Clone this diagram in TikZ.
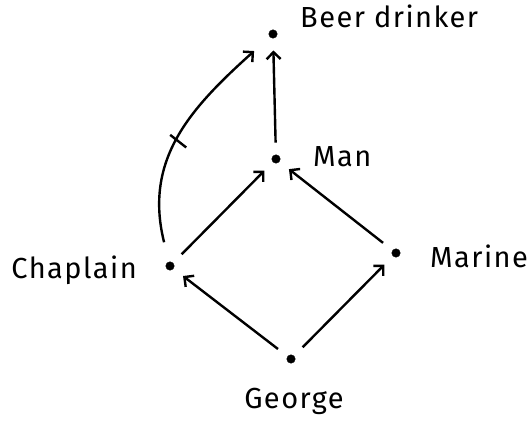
\documentclass[tikz,border=0pt]{standalone}
\usepackage{fontspec}
\setmainfont{Fira Sans}[LetterSpace=5]
\usepackage{tikz}
\usetikzlibrary{calc}
\usetikzlibrary{arrows.meta}
\usetikzlibrary{decorations.markings}

\begin{document}
\begin{tikzpicture}[x=1pt, y=1pt,
	dot/.style = {draw=black, fill=black, circle, inner sep=0pt, minimum size=8.5pt},
	arr/.style = {line width=2.4pt, -{Straight Barb[length=7pt, width=14pt, line width=2.4pt]}, shorten <=12pt, shorten >=12pt},
	tick/.style = {line width=2.4pt, -, shorten <=0pt, shorten >=0pt},
	lab/.style = {font=\fontsize{29}{32}\selectfont, inner sep=0pt}
]
\useasboundingbox (0,0) rectangle (527,426);

% The five individuals of the ordering
\node[dot] (beer) at (273,392) {};
\node[dot] (man) at (276,267) {};
\node[dot] (chaplain) at (170,160) {};
\node[dot] (marine) at (396,173) {};
\node[dot] (george) at (291,67) {};

% Their names
\node[lab, anchor=base west] (beerlab) at ($(beer)+(27,6)$) {Beer drinker};
\node[lab, anchor=base west] (manlab) at ($(man)+(37,-8)$) {Man};
\node[lab, anchor=base west] (marinelab) at ($(marine)+(34,-14)$) {Marine};
\node[lab, anchor=base east] (chaplainlab) at ($(chaplain)+(-33,-13)$) {Chaplain};
\node[lab, anchor=base] (georgelab) at ($(george)+(3,-49)$) {George};

% Upward arrows of the diamond
\draw[arr] (george) -- (chaplain);
\draw[arr] (george) -- (marine);
\draw[arr] (chaplain) -- (man);
\draw[arr] (marine) -- (man);
\draw[arr] (man) -- (beer);

% Crossed-out arrow from Chaplain to Beer drinker
\draw[arr, shorten <=20pt, shorten >=21pt,
	postaction={decorate, decoration={markings,
		mark=at position 0.47 with {\draw[tick] (2pt,10pt) -- (-2pt,-10pt);}}}]
	(chaplain) to[out=104, in=222, looseness=1.1] (beer);

\end{tikzpicture}
\end{document}
